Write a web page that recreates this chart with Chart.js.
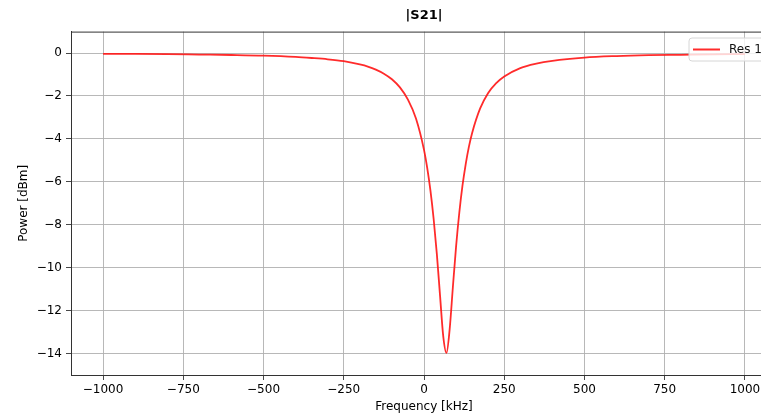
<!DOCTYPE html>
<html>
<head>
<meta charset="utf-8">
<script src="https://cdn.jsdelivr.net/npm/chart.js@4"></script>
<style>
  html, body { margin: 0; padding: 0; overflow: hidden; background: #fff; }
  canvas { display: block; }
</style>
</head>
<body>
<canvas id="myChart" width="800" height="415"></canvas>
<script>
'use strict';

// values
let freqs = [-1000, -900, -800, -700, -600, -500, -400, -350, -300, -250, -200, -175, -150, -125, -100, -75, -50, -25,
  0, 10, 20, 30, 40, 50, 60, 70, 80, 90, 100, 110, 120, 130, 140, 150,
  175, 200, 225, 250, 300, 350, 400, 500, 600, 700, 800, 900, 1000];
let power = [-0.04, -0.04, -0.05, -0.07, -0.09, -0.12, -0.18, -0.23, -0.29, -0.38, -0.53, -0.63, -0.77, -0.96, -1.22, -1.60, -2.17, -3.05,
  -4.51, -5.35, -6.40, -7.72, -9.36, -11.30, -13.20, -13.97, -12.86, -10.90, -9.01, -7.44, -6.17, -5.17, -4.36, -3.72,
  -2.58, -1.86, -1.40, -1.09, -0.70, -0.49, -0.36, -0.21, -0.14, -0.10, -0.08, -0.06, -0.05];
let xTicks = [-1000, -750, -500, -250, 0, 250, 500, 750, 1000];
let yTicks = [-14, -12, -10, -8, -6, -4, -2, 0];
let seriesName = 'Res 1';

const FONT = 'DejaVu Sans';

function minusSign(v) {
    return String(v).replace('-', '\u2212');
}

// top spine + matplotlib style legend inside the axes
const framePlugin = {
    id: 'frame',
    afterDraw(chart) {
        let ctx = chart.ctx;
        let a = chart.chartArea;
        ctx.save();
        ctx.strokeStyle = '#333';
        ctx.lineWidth = 1;
        ctx.strokeRect(a.left + 0.5, a.top + 0.5, a.right - a.left, a.bottom - a.top);

        // legend box
        let bx = 689, by = 38, bw = 90, bh = 23, r = 3;
        ctx.beginPath();
        ctx.moveTo(bx + r, by);
        ctx.lineTo(bx + bw - r, by);
        ctx.arcTo(bx + bw, by, bx + bw, by + r, r);
        ctx.lineTo(bx + bw, by + bh - r);
        ctx.arcTo(bx + bw, by + bh, bx + bw - r, by + bh, r);
        ctx.lineTo(bx + r, by + bh);
        ctx.arcTo(bx, by + bh, bx, by + bh - r, r);
        ctx.lineTo(bx, by + r);
        ctx.arcTo(bx, by, bx + r, by, r);
        ctx.closePath();
        ctx.fillStyle = 'rgba(255,255,255,0.8)';
        ctx.fill();
        ctx.strokeStyle = '#d6d6d6';
        ctx.stroke();

        ctx.strokeStyle = chart.data.datasets[0].borderColor;
        ctx.lineWidth = 2;
        ctx.beginPath();
        ctx.moveTo(693, 49.5);
        ctx.lineTo(720, 49.5);
        ctx.stroke();

        ctx.fillStyle = '#111';
        ctx.font = '12px "' + FONT + '"';
        ctx.textBaseline = 'middle';
        ctx.fillText(chart.data.datasets[0].label, 729, 50);
        ctx.restore();
    }
};

let ctx = document.getElementById('myChart').getContext('2d');
let myChart = new Chart(ctx, {
    type: 'line',
    data: {
        datasets: [{
            label: seriesName,
            data: freqs.map((f, i) => ({ x: f, y: power[i] })),
            borderColor: 'rgba(255, 20, 20, 0.9)',
            borderWidth: 1.8,
            pointRadius: 0,
            fill: false,
            cubicInterpolationMode: 'monotone'
        }]
    },
    options: {
        responsive: false,
        animation: false,
        layout: { padding: { left: 0, right: 23, top: 0, bottom: 0 } },
        plugins: {
            legend: { display: false },
            tooltip: { enabled: false },
            title: {
                display: true,
                text: '|S21|',
                fullSize: false,
                color: '#000',
                font: { family: FONT, size: 13, weight: 'bold' },
                padding: { top: 8, bottom: 8 }
            }
        },
        scales: {
            x: {
                type: 'linear',
                min: -1100,
                max: 1100,
                afterBuildTicks: (scale) => { scale.ticks = xTicks.map(v => ({ value: v })); },
                afterFit: (scale) => { scale.height = 40; },
                ticks: {
                    color: '#000',
                    font: { family: FONT, size: 12 },
                    padding: 3,
                    maxRotation: 0,
                    callback: (v) => minusSign(v)
                },
                grid: { color: '#b0b0b0', lineWidth: 0.9, tickLength: 5, tickColor: '#333' },
                border: { color: '#333', width: 1 },
                title: {
                    display: true,
                    text: 'Frequency [kHz]',
                    color: '#000',
                    font: { family: FONT, size: 12 },
                    padding: { top: 0, bottom: 1 }
                }
            },
            y: {
                type: 'linear',
                min: -15,
                max: 1,
                afterBuildTicks: (scale) => { scale.ticks = yTicks.map(v => ({ value: v })); },
                afterFit: (scale) => { scale.width = 71; },
                ticks: {
                    color: '#000',
                    font: { family: FONT, size: 12 },
                    padding: 4,
                    callback: (v) => minusSign(v)
                },
                grid: { color: '#b0b0b0', lineWidth: 0.9, tickLength: 5, tickColor: '#333' },
                border: { color: '#333', width: 1 },
                title: {
                    display: true,
                    text: 'Power [dBm]',
                    color: '#000',
                    font: { family: FONT, size: 12 },
                    padding: { top: 17, bottom: 0 }
                }
            }
        }
    },
    plugins: [framePlugin]
});
</script>
</body>
</html>
